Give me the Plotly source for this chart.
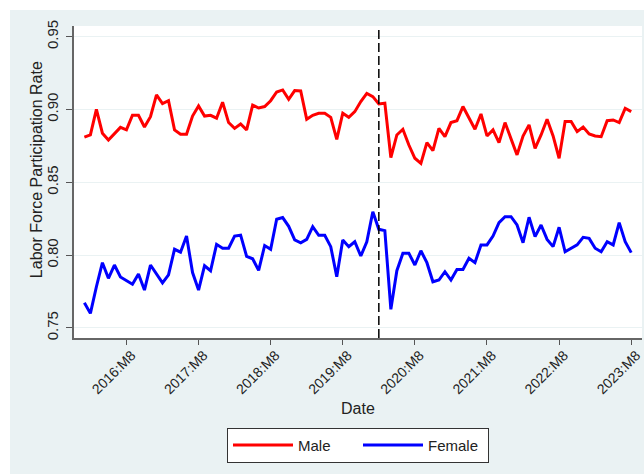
import pandas as pd
import plotly.graph_objects as go

# Monthly labor force participation rates, 2016:M1 - 2023:M8
start_month = "2016-01"
male = [
    0.881, 0.8825, 0.900, 0.8837, 0.879, 0.883, 0.8877, 0.886, 0.896, 0.896,
    0.888, 0.895, 0.910, 0.904, 0.906, 0.886, 0.883, 0.883, 0.8955, 0.9024,
    0.8955, 0.896, 0.894, 0.905, 0.891, 0.887, 0.890, 0.886, 0.903, 0.901,
    0.902, 0.906, 0.912, 0.9134, 0.907, 0.913, 0.9127, 0.8933, 0.896, 0.8974,
    0.8974, 0.8946, 0.8795, 0.8974, 0.8946, 0.8985, 0.9054, 0.911, 0.9088, 0.9038,
    0.9043, 0.867, 0.8825, 0.8864, 0.8756, 0.8665, 0.863, 0.8772, 0.8717, 0.887,
    0.8813, 0.891, 0.8923, 0.902, 0.894, 0.8864, 0.8969, 0.8818, 0.886, 0.8772,
    0.891, 0.8802, 0.8688, 0.8818, 0.8894, 0.8733, 0.8825, 0.8933, 0.8818, 0.8665,
    0.8917, 0.8917, 0.8848, 0.888, 0.8832, 0.8818, 0.8813, 0.8923, 0.8928, 0.891,
    0.9008, 0.8985,
]
female = [
    0.7673, 0.760, 0.7783, 0.7948, 0.7841, 0.7932, 0.785, 0.7824, 0.780, 0.787,
    0.776, 0.7932, 0.7875, 0.781, 0.7865, 0.804, 0.802, 0.8131, 0.788, 0.776,
    0.7927, 0.7893, 0.8074, 0.8047, 0.8047, 0.8131, 0.8137, 0.7992, 0.7975, 0.7895,
    0.8066, 0.804, 0.8246, 0.8258, 0.8198, 0.8104, 0.8085, 0.8108, 0.8195, 0.8136,
    0.8136, 0.8058, 0.7852, 0.8104, 0.8058, 0.8092, 0.7994, 0.8092, 0.8298, 0.8177,
    0.8168, 0.7628, 0.7893, 0.8012, 0.8012, 0.7932, 0.803, 0.7948, 0.7817, 0.7829,
    0.7886, 0.7829, 0.7902, 0.7902, 0.7978, 0.7948, 0.807, 0.807, 0.8131, 0.8223,
    0.8264, 0.8264, 0.8207, 0.8085, 0.826, 0.8127, 0.8207, 0.8108, 0.8058, 0.8191,
    0.8023, 0.8047, 0.807, 0.8122, 0.8115, 0.8047, 0.8023, 0.8092, 0.807, 0.8223,
    0.8092, 0.8017,
]
tick_months = ["2016-08", "2017-08", "2018-08", "2019-08",
               "2020-08", "2021-08", "2022-08", "2023-08"]
y_ticks = [0.75, 0.80, 0.85, 0.90, 0.95]
break_month = "2020-02"


def month_num(p):
    """Monthly period -> continuous year value (Stata %tm-like spacing)."""
    p = pd.Period(p, freq="M")
    return p.year + (p.month - 1) / 12.0


periods = pd.period_range(start_month, periods=len(male), freq="M")
x = [month_num(p) for p in periods]
tick_vals = [month_num(t) for t in tick_months]
tick_text = [f"{pd.Period(t, 'M').year}:M{pd.Period(t, 'M').month}" for t in tick_months]

BG = "#EAF2F3"
FONT = "Liberation Sans, Arial, sans-serif"

fig = go.Figure()
fig.add_trace(go.Scatter(x=x, y=male, mode="lines", name="Male",
                         line=dict(color="#FF0000", width=3)))
fig.add_trace(go.Scatter(x=x, y=female, mode="lines", name="Female",
                         line=dict(color="#0000FF", width=3)))

# vertical reference line at the break month
fig.add_shape(type="line", xref="x", yref="paper",
              x0=month_num(break_month), x1=month_num(break_month), y0=0, y1=1,
              line=dict(color="black", width=1.5, dash="9px,4px"))

# white strips framing the graph region
fig.add_shape(type="rect", xref="paper", yref="paper", layer="below",
              x0=-0.2, x1=1.1, y0=1.0513, y1=1.2,
              fillcolor="white", line=dict(width=0))
fig.add_shape(type="rect", xref="paper", yref="paper", layer="below",
              x0=-0.2, x1=-0.1127, y0=-0.6, y1=1.2,
              fillcolor="white", line=dict(width=0))

fig.add_annotation(text="Labor Force Participation Rate", xref="paper", yref="paper",
                   x=-0.0669, y=0.538, textangle=-90, showarrow=False,
                   xanchor="center", yanchor="middle",
                   font=dict(family=FONT, size=16, color="#222"))
fig.add_annotation(text="Date", xref="paper", yref="paper",
                   x=0.5, y=-0.2244, showarrow=False,
                   xanchor="center", yanchor="middle",
                   font=dict(family=FONT, size=16, color="#222"))

fig.update_layout(
    width=644, height=474,
    margin=dict(l=74, r=2, t=26, b=136),
    paper_bgcolor=BG, plot_bgcolor="white",
    font=dict(family=FONT, color="#222"),
    showlegend=True,
    legend=dict(orientation="h", x=0.5, xanchor="center", y=-0.288, yanchor="top",
                bgcolor="white", bordercolor="#333", borderwidth=1,
                font=dict(family=FONT, size=15, color="#222"),
                entrywidth=55, itemwidth=60),
)
fig.update_xaxes(range=[2015.856, 2023.733], tickmode="array",
                 tickvals=tick_vals, ticktext=tick_text, tickangle=-45,
                 ticks="outside", ticklen=5, tickcolor="#555", tickwidth=1,
                 ticklabelshift=5, ticklabelstandoff=-3,
                 showline=True, linecolor="#666", linewidth=1.5,
                 showgrid=False, zeroline=False,
                 tickfont=dict(family=FONT, size=14, color="#222"))
fig.update_yaxes(range=[0.7431, 0.9573], tickmode="array",
                 tickvals=y_ticks, ticktext=[f"{v:.2f}" for v in y_ticks],
                 tickangle=-90, ticks="outside", ticklen=6, tickcolor="#555",
                 tickwidth=1, ticklabelstandoff=2,
                 showline=True, linecolor="#666", linewidth=1.5,
                 showgrid=True, gridcolor=BG, gridwidth=1.2, zeroline=False,
                 tickfont=dict(family=FONT, size=15, color="#222"))

fig.write_html("out.html")
